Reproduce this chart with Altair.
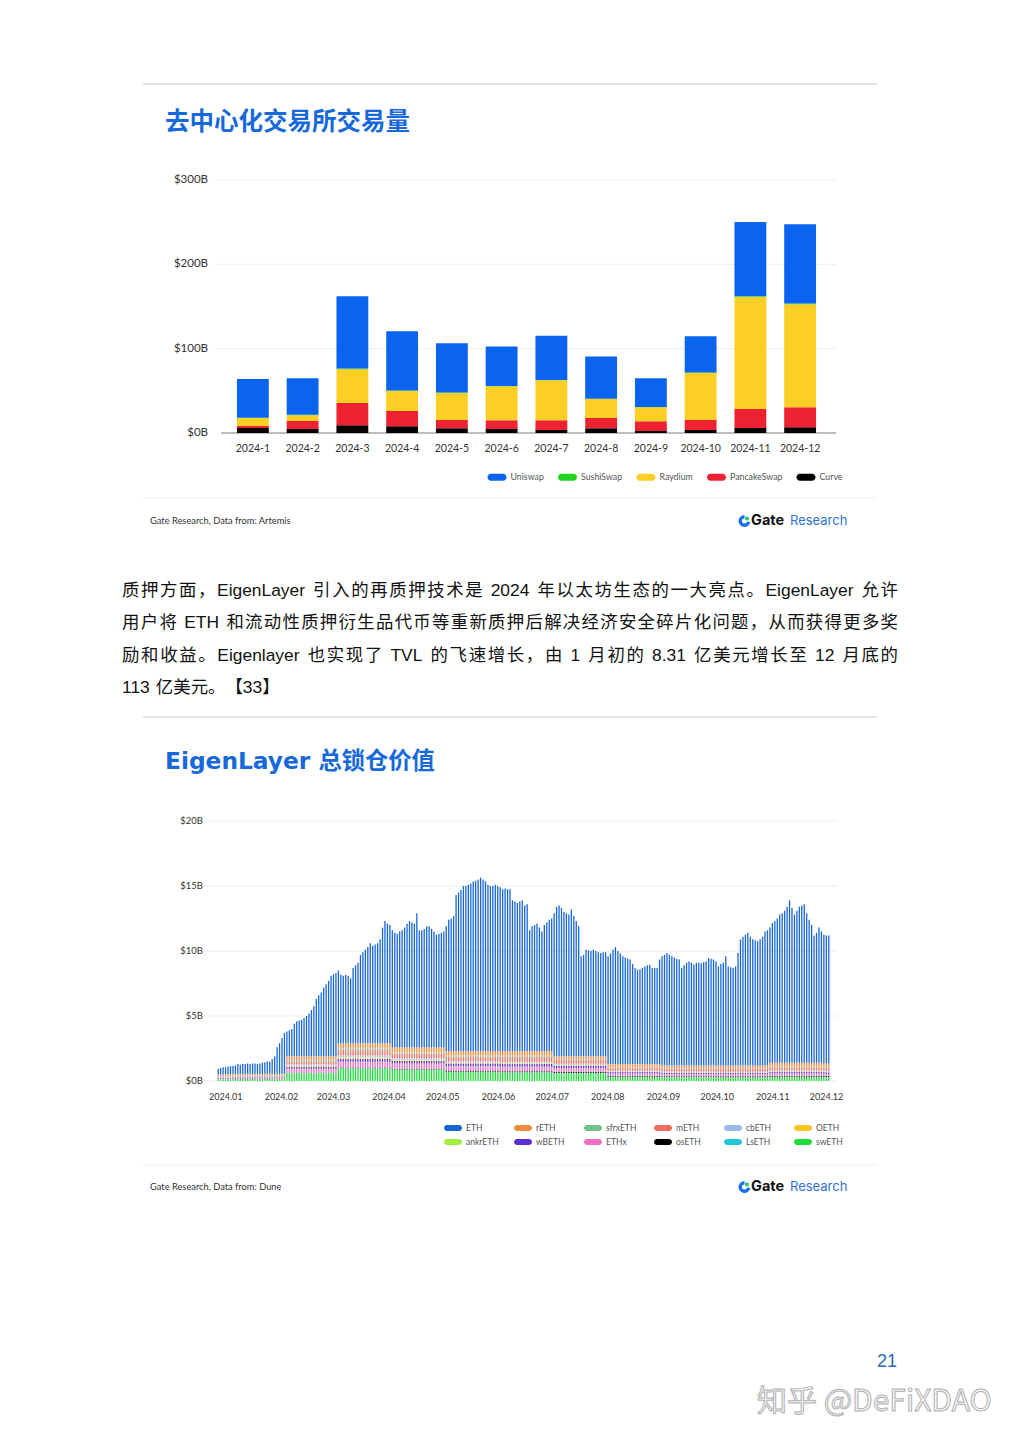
import altair as alt
import numpy as np
import pandas as pd

alt.data_transformers.disable_max_rows()
OFF = 8  # page margin of the html body

# ---------------- chart 1 : DEX volume (B USD) ----------------
months1 = ["2024-1", "2024-2", "2024-3", "2024-4", "2024-5", "2024-6",
           "2024-7", "2024-8", "2024-9", "2024-10", "2024-11", "2024-12"]
dex_names = ["Uniswap", "SushiSwap", "Raydium", "PancakeSwap", "Curve"]
dex_colors = ["#0a64f0", "#1fd51f", "#fccf24", "#ee2230", "#000000"]
uniswap = [45.9, 43.4, 85.8, 70.3, 58.5, 46.8, 52.3, 49.9, 34.1, 43.2, 87.9, 93.8]
sushiswap = [0.3, 0.5, 0.8, 0.5, 0.4, 0.3, 0.4, 0.3, 0.3, 0.4, 0.8, 0.8]
raydium = [9.5, 6.8, 40.0, 23.8, 32.1, 40.4, 47.5, 22.6, 16.6, 55.8, 133.0, 122.3]
pancakeswap = [2.4, 9.5, 26.5, 18.2, 9.9, 10.3, 11.4, 12.3, 11.5, 11.8, 22.6, 23.8]
curve = [5.9, 4.7, 9.1, 7.9, 5.5, 4.7, 3.6, 5.5, 2.4, 3.6, 5.9, 6.7]
y1_ticks = [0, 100, 200, 300]
y1_labels = ["$0B", "$100B", "$200B", "$300B"]

# ---------------- chart 2 : EigenLayer TVL (B USD) ----------------
eig_total = [
    0.95, 1.0, 1.05, 1.05, 1.1, 1.15, 1.15, 1.2, 1.3, 1.25,
    1.3, 1.3, 1.35, 1.3, 1.35, 1.35, 1.3, 1.35, 1.4, 1.45,
    1.5, 1.5, 1.7, 1.9, 2.6, 2.9, 3.3, 3.7, 3.8, 3.9,
    4.0, 4.4, 4.6, 4.65, 4.7, 4.85, 5.0, 5.2, 5.45, 5.75,
    6.3, 6.6, 6.8, 7.2, 7.45, 7.7, 8.1, 8.2, 8.3, 8.5,
    8.2, 8.1, 8.15, 8.1, 7.9, 8.7, 8.9, 9.1, 9.7, 9.9,
    10.1, 10.3, 10.6, 10.4, 10.5, 10.6, 10.9, 11.8, 12.3, 12.1,
    12.0, 11.6, 11.4, 11.3, 11.5, 11.6, 11.8, 12.1, 12.3, 12.2,
    12.1, 12.9, 11.6, 11.6, 11.7, 11.9, 11.9, 11.7, 11.5, 11.25,
    11.3, 11.4, 11.5, 11.9, 12.4, 12.5, 12.7, 14.3, 14.5, 14.7,
    15.0, 15.0, 15.1, 15.2, 15.35, 15.4, 15.5, 15.65, 15.5, 15.35,
    15.1, 15.0, 15.0, 15.1, 15.0, 14.9, 14.75, 14.8, 14.75, 14.75,
    13.9, 13.8, 13.7, 13.8, 13.9, 13.5, 13.6, 11.6, 11.9, 12.0,
    12.1, 11.8, 11.5, 12.0, 12.2, 12.4, 12.5, 12.9, 13.4, 13.5,
    13.3, 13.0, 12.9, 12.8, 13.2, 12.7, 12.3, 11.9, 9.6, 9.7,
    10.1, 10.05, 10.0, 10.1, 10.0, 9.9, 9.85, 9.9, 9.9, 9.6,
    9.8, 10.1, 10.3, 10.0, 9.8, 9.6, 9.5, 9.4, 9.35, 9.0,
    8.7, 8.55, 8.6, 8.7, 8.8, 8.9, 8.95, 8.7, 8.7, 8.7,
    9.35, 9.6, 9.7, 9.85, 9.7, 9.6, 9.5, 9.4, 9.35, 8.7,
    8.9, 9.1, 9.2, 9.1, 8.95, 9.1, 9.1, 9.05, 9.15, 9.2,
    9.45, 9.4, 9.35, 9.2, 8.8, 9.0, 9.1, 9.6, 8.8, 8.75,
    8.7, 8.8, 9.85, 10.9, 11.1, 11.25, 11.4, 11.1, 10.9, 10.8,
    10.75, 10.9, 11.1, 11.5, 11.6, 11.8, 12.15, 12.3, 12.5, 12.8,
    12.9, 13.1, 13.4, 13.9, 13.3, 12.8, 13.1, 13.4, 13.5, 13.6,
    12.9, 12.4, 12.0, 11.2, 11.4, 11.8, 11.5, 11.25, 11.2, 11.2,
]
start_date = "2023-12-25"
span_days = 346
# minor restaked tokens, monthly level (Dec-2023, Jan .. Dec 2024), stacked bottom -> top
lst_stack = ["swETH", "LsETH", "osETH", "ETHx", "wBETH", "ankrETH",
             "OETH", "cbETH", "mETH", "sfrxETH", "rETH"]
swETH = [0.12, 0.15, 0.6, 0.95, 0.85, 0.7, 0.65, 0.6, 0.3, 0.28, 0.27, 0.3, 0.28]
LsETH = [0.01, 0.01, 0.02, 0.03, 0.03, 0.02, 0.02, 0.02, 0.02, 0.02, 0.02, 0.02, 0.02]
osETH = [0.0, 0.0, 0.02, 0.05, 0.06, 0.07, 0.08, 0.08, 0.07, 0.07, 0.08, 0.09, 0.09]
ETHx = [0.05, 0.07, 0.3, 0.45, 0.4, 0.35, 0.35, 0.3, 0.18, 0.15, 0.14, 0.16, 0.15]
wBETH = [0.06, 0.06, 0.15, 0.22, 0.2, 0.2, 0.2, 0.18, 0.12, 0.12, 0.12, 0.14, 0.14]
ankrETH = [0.01, 0.01, 0.03, 0.04, 0.03, 0.03, 0.03, 0.02, 0.02, 0.02, 0.02, 0.02, 0.02]
OETH = [0.01, 0.01, 0.05, 0.08, 0.06, 0.05, 0.05, 0.04, 0.02, 0.02, 0.02, 0.02, 0.02]
cbETH = [0.03, 0.03, 0.1, 0.15, 0.12, 0.1, 0.1, 0.08, 0.05, 0.05, 0.05, 0.06, 0.06]
mETH = [0.06, 0.06, 0.25, 0.4, 0.35, 0.35, 0.38, 0.3, 0.22, 0.2, 0.2, 0.25, 0.25]
sfrxETH = [0.05, 0.05, 0.1, 0.13, 0.1, 0.08, 0.08, 0.06, 0.04, 0.04, 0.04, 0.04, 0.04]
rETH = [0.1, 0.1, 0.28, 0.4, 0.4, 0.35, 0.36, 0.22, 0.26, 0.23, 0.24, 0.3, 0.28]
eig_legend = ["ETH", "rETH", "sfrxETH", "mETH", "cbETH", "OETH",
              "ankrETH", "wBETH", "ETHx", "osETH", "LsETH", "swETH"]
eig_colors = ["#1866d4", "#f08a3e", "#72c08e", "#ee6b60", "#9bb8ea", "#f9c623",
              "#a2ee3e", "#5b2fd4", "#f06fc0", "#000000", "#22c4dc", "#1fdc3a"]
y2_ticks = [0, 5, 10, 15, 20]
y2_labels = ["$0B", "$5B", "$10B", "$15B", "$20B"]
month_ticks = ["2024-01-01", "2024-02-01", "2024-03-01", "2024-04-01", "2024-05-01", "2024-06-01",
               "2024-07-01", "2024-08-01", "2024-09-01", "2024-10-01", "2024-11-01", "2024-12-01"]
month_labels = ["2024.01", "2024.02", "2024.03", "2024.04", "2024.05", "2024.06",
                "2024.07", "2024.08", "2024.09", "2024.10", "2024.11", "2024.12"]

# ---------------- page texts ----------------
title1 = "去中心化交易所交易量"
title2 = "EigenLayer 总锁仓价值"
para_lines = [
    "质押方面，EigenLayer 引入的再质押技术是 2024 年以太坊生态的一大亮点。EigenLayer 允许",
    "用户将 ETH 和流动性质押衍生品代币等重新质押后解决经济安全碎片化问题，从而获得更多奖",
    "励和收益。Eigenlayer 也实现了 TVL 的飞速增长，由 1 月初的 8.31 亿美元增长至 12 月底的",
    "113 亿美元。【33】",
]
para_justify = [True, True, True, False]
source1 = "Gate Research, Data from: Artemis"
source2 = "Gate Research, Data from: Dune"
page_no = "21"
watermark = "知乎 @DeFiXDAO"

FONT_CJK = "Noto Sans CJK SC"
FONT_TITLE = "DejaVu Sans, Noto Sans CJK SC"
FONT_PARA = "Liberation Sans, Noto Sans CJK SC"
FONT_LBL = "Lato"


def P(v):
    return v - OFF


def txt(s, x, y, size, color="#000000", font=FONT_LBL, weight="normal",
        align="left", baseline="middle", **kw):
    return alt.Chart(pd.DataFrame({"t": [s]})).mark_text(
        align=align, baseline=baseline, fontSize=size, font=font,
        fontWeight=weight, color=color, **kw
    ).encode(x=alt.value(P(x)), y=alt.value(P(y)), text="t:N")


def hline(x1, x2, y, color, width=1):
    return alt.Chart(pd.DataFrame({"a": [0]})).mark_rule(
        color=color, strokeWidth=width
    ).encode(x=alt.value(P(x1)), x2=alt.value(P(x2)), y=alt.value(P(y)))


def logo(y):
    arc = alt.Chart(pd.DataFrame({"a": [0]})).mark_arc(
        innerRadius=2.6, outerRadius=6.0, theta=1.75, theta2=6.28, color="#1f6ee8"
    ).encode(x=alt.value(P(744.5)), y=alt.value(P(y)))
    sq = alt.Chart(pd.DataFrame({"a": [0]})).mark_square(
        size=13, color="#1ec96a", opacity=1
    ).encode(x=alt.value(P(747)), y=alt.value(P(y - 2.5)))
    return [arc, sq,
            txt("Gate", 751, y, 14.5, "#111111", "Inter", "bold"),
            txt("Research", 790, y, 13, "#2f73d9", "Inter")]


# ---------------- chart 1 layers ----------------
rows1 = []
for name, vals, o in [("Curve", curve, 0), ("PancakeSwap", pancakeswap, 1),
                      ("Raydium", raydium, 2), ("SushiSwap", sushiswap, 3),
                      ("Uniswap", uniswap, 4)]:
    for m, v in zip(months1, vals):
        rows1.append({"month": m, "series": name, "value": v, "ord": o})
df1 = pd.DataFrame(rows1)

x1s = alt.Scale(domain=months1, range=[P(228), P(825)], paddingInner=0.36, paddingOuter=0.18)
y1s = alt.Scale(domain=[0, 300], range=[P(433), P(180)], nice=False, zero=False)

PILL1 = "M-1.333,-0.778 L1.333,-0.778 A0.778,0.778 0 0 1 1.333,0.778 L-1.333,0.778 A0.778,0.778 0 0 1 -1.333,-0.778 Z"
PILL2 = "M-1.333,-0.667 L1.333,-0.667 A0.667,0.667 0 0 1 1.333,0.667 L-1.333,0.667 A0.667,0.667 0 0 1 -1.333,-0.667 Z"

grid1 = alt.Chart(pd.DataFrame({"v": y1_ticks[1:]})).mark_rule(color="#eeeeee", strokeWidth=1).encode(
    y=alt.Y("v:Q", scale=y1s, axis=None), x=alt.value(P(215)), x2=alt.value(P(836)))
base1 = alt.Chart(pd.DataFrame({"v": [0]})).mark_rule(color="#bdbdbd", strokeWidth=2.2).encode(
    y=alt.Y("v:Q", scale=y1s, axis=None), x=alt.value(P(221)), x2=alt.value(P(836)))
ylab1 = alt.Chart(pd.DataFrame({"v": y1_ticks, "t": y1_labels})).mark_text(
    align="right", baseline="middle", fontSize=11.5, font=FONT_LBL, color="#333333").encode(
    y=alt.Y("v:Q", scale=y1s, axis=None), x=alt.value(P(208)), text="t:N")
bars1 = alt.Chart(df1).mark_bar(strokeWidth=0).encode(
    x=alt.X("month:N", scale=x1s, axis=None, sort=months1),
    y=alt.Y("value:Q", scale=y1s, axis=None, stack="zero"),
    color=alt.Color("series:N", scale=alt.Scale(domain=dex_names, range=dex_colors),
                    legend=alt.Legend(orient="none", legendX=P(488 + 4.5), legendY=P(477 - 4.5),
                                      direction="horizontal", title=None, symbolType=PILL1,
                                      symbolSize=81, symbolStrokeWidth=0, labelFont=FONT_LBL,
                                      labelFontSize=8.8, labelColor="#555555", labelOffset=9,
                                      columnPadding=13.5, padding=0)),
    order=alt.Order("ord:Q"))
xlab1 = alt.Chart(pd.DataFrame({"month": months1})).mark_text(
    align="center", baseline="middle", fontSize=10.5, font=FONT_LBL, color="#333333").encode(
    x=alt.X("month:N", scale=x1s, axis=None, sort=months1), y=alt.value(P(449)), text="month:N")

# ---------------- chart 2 layers ----------------
days = np.linspace(0, span_days, len(eig_total))
dates = pd.Timestamp(start_date) + pd.to_timedelta(days, unit="D")
midx = (dates.year - 2023) * 12 + dates.month - 12
minor = {"swETH": swETH, "LsETH": LsETH, "osETH": osETH, "ETHx": ETHx, "wBETH": wBETH,
         "ankrETH": ankrETH, "OETH": OETH, "cbETH": cbETH, "mETH": mETH,
         "sfrxETH": sfrxETH, "rETH": rETH}
rows2 = []
for i, tot in enumerate(eig_total):
    m = int(midx[i])
    s = 0.0
    for o, name in enumerate(lst_stack):
        v = minor[name][m]
        s += v
        rows2.append({"d": float(days[i]), "series": name, "value": v, "ord": o})
    rows2.append({"d": float(days[i]), "series": "ETH", "value": max(tot - s, 0.05), "ord": 11})
df2 = pd.DataFrame(rows2)

x2s = alt.Scale(domain=[-0.7, span_days + 0.7], range=[P(212), P(835)], nice=False, zero=False)
y2s = alt.Scale(domain=[0, 20], range=[P(1081), P(821)], nice=False, zero=False)

grid2 = alt.Chart(pd.DataFrame({"v": y2_ticks})).mark_rule(color="#ececec", strokeWidth=1).encode(
    y=alt.Y("v:Q", scale=y2s, axis=None), x=alt.value(P(201)), x2=alt.value(P(837)))
ylab2 = alt.Chart(pd.DataFrame({"v": y2_ticks, "t": y2_labels})).mark_text(
    align="right", baseline="middle", fontSize=9.5, font=FONT_LBL, color="#333333").encode(
    y=alt.Y("v:Q", scale=y2s, axis=None), x=alt.value(P(203)), text="t:N")
bars2 = alt.Chart(df2).mark_bar(size=1.3, strokeWidth=0).encode(
    x=alt.X("d:Q", scale=x2s, axis=None),
    y=alt.Y("value:Q", scale=y2s, axis=None, stack="zero"),
    color=alt.Color("series:N", scale=alt.Scale(domain=eig_legend, range=eig_colors),
                    legend=alt.Legend(orient="none", legendX=P(444 + 4.5), legendY=P(1128 - 4.5),
                                      direction="horizontal", columns=6, gridAlign="all",
                                      title=None, symbolType=PILL2, symbolSize=81,
                                      symbolStrokeWidth=0, labelFont=FONT_LBL, labelFontSize=8.5,
                                      labelColor="#555555", labelOffset=8.5, columnPadding=14,
                                      rowPadding=5, padding=0)),
    order=alt.Order("ord:Q"))
mt = pd.DataFrame({"d": [(pd.Timestamp(t) - pd.Timestamp(start_date)).days for t in month_ticks],
                   "t": month_labels})
xlab2 = alt.Chart(mt).mark_text(
    align="center", baseline="middle", fontSize=9, font=FONT_LBL, color="#333333").encode(
    x=alt.X("d:Q", scale=x2s, axis=None), y=alt.value(P(1097)), text="t:N")

# ---------------- paragraph (justified, laid out per token) ----------------
FS = 17.4
LATIN_W = {" ": 0.278, "E": 0.667, "i": 0.222, "g": 0.556, "e": 0.556, "n": 0.556,
           "L": 0.556, "a": 0.556, "y": 0.5, "r": 0.333, "T": 0.611, "H": 0.722,
           "V": 0.667, ".": 0.278, "l": 0.222}


def ascii_w(c):
    return 0.556 if c.isdigit() else LATIN_W.get(c, 0.556)


prow = []
baselines = [596, 628, 661, 693]
for line, just, base in zip(para_lines, para_justify, baselines):
    toks = []
    cur = ""
    for c in line:
        if ord(c) < 128 and c != " ":
            cur += c
            continue
        if cur:
            toks.append(cur)
            cur = ""
        toks.append(c)
    if cur:
        toks.append(cur)
    widths = [sum(ascii_w(ch) for ch in t) * FS if ord(t[0]) < 128 else FS for t in toks]
    nat = sum(widths)
    extra = max((776 - nat) / (len(toks) - 1), 0.0) if just else 0.0
    x = 122.0
    for t, w in zip(toks, widths):
        if t != " ":
            prow.append({"c": t, "x": P(x), "y": P(base)})
        x += w + extra
para = alt.Chart(pd.DataFrame(prow)).mark_text(
    align="left", baseline="alphabetic", fontSize=FS, font=FONT_PARA, color="#111111").encode(
    x=alt.X("x:Q", scale=None), y=alt.Y("y:Q", scale=None), text="c:N")

layers = [
    hline(143, 877, 84, "#c6c6c6"),
    txt(title1, 165, 123, 24.5, "#1769db", FONT_CJK, "bold"),
    grid1, base1, bars1, ylab1, xlab1,
    hline(143, 877, 498, "#efefef"),
    txt(source1, 150, 521, 9.3, "#333333"),
    *logo(521),
    para,
    hline(143, 877, 717, "#c6c6c6"),
    txt(title2, 165, 762, 23.3, "#1769db", FONT_TITLE, "bold"),
    grid2, bars2, ylab2, xlab2,
    hline(143, 877, 1165, "#efefef"),
    txt(source2, 150, 1187, 9.3, "#333333"),
    *logo(1187),
    txt(page_no, 887, 1362, 18, "#2d6bb5", "Liberation Sans", align="center"),
    txt(watermark, 757, 1402, 30, "#f7f7f7", FONT_CJK, stroke="#b0b0b0", strokeWidth=1),
]

chart = alt.layer(*layers).resolve_scale(
    x="independent", y="independent", color="independent"
).properties(width=1004, height=1426, padding=0, background="white").configure_view(stroke=None)

chart.save("out.html", embed_options={"renderer": "svg", "actions": False})
